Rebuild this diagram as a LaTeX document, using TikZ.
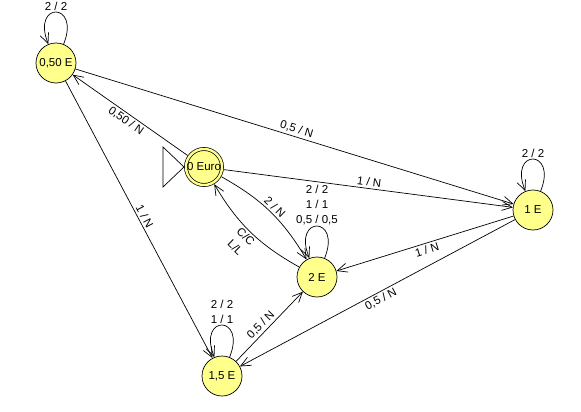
\documentclass[tikz,border=0pt]{standalone}
\usepackage{fontspec}
\setmainfont{Liberation Sans}
\usetikzlibrary{arrows.meta}
\definecolor{stfill}{RGB}{255,255,140}

\begin{document}
\begin{tikzpicture}[
          x=1pt, y=1pt,
          font=\fontsize{11.5}{15}\selectfont,
          st/.style={circle, draw, line width=0.7pt, fill=stfill, minimum size=40pt, inner sep=0pt},
          acc/.style={st, minimum size=36pt, inner sep=-3pt, double=stfill, double distance=2.4pt, outer sep=2pt},
          tr/.style={draw, line width=0.7pt, -{Straight Barb[length=10pt,width=9pt]}},
          lbl/.style={sloped, inner sep=2pt},
          selfloop/.style={out=68, in=112, distance=46pt},
          looplbl/.style={above, inner sep=1pt, align=center}
      ]
        \useasboundingbox (0,0) rectangle (581,-412);
        \node[st] (c50) at (56,-63) {0,50 E};
        \node[acc] (c0) at (204,-167) {0 Euro};
        \node[st] (e1) at (533,-210) {1 E};
        \node[st] (e2) at (317,-277) {2 E};
        \node[st] (e15) at (222,-376) {1,5 E};
        \draw[line width=0.7pt] (c0.west) -- ++(-21,20) -- ++(0,-40) -- cycle;
        \draw[tr] (c50) -- node[lbl, above] {0,5 / N} (e1);
        \draw[tr] (c0) -- node[lbl, below] {0,50 / N} (c50);
        \draw[tr] (c0) -- node[lbl, above] {1 / N} (e1);
        \draw[tr] (c0) to[bend left=15] node[lbl, above] {2 / N} (e2);
        \draw[tr] (e2) to[bend left=15] node[lbl, below, align=center] {C/C\\L/L} (c0);
        \draw[tr] (c50) -- node[lbl, above] {1 / N} (e15);
        \draw[tr] (e1) -- node[lbl, below] {1 / N} (e2);
        \draw[tr] (e1) -- node[lbl, below] {0,5 / N} (e15);
        \draw[tr] (e15) -- node[lbl, above, pos=0.45] {0,5 / N} (e2);
        \draw[tr] (c50) to[selfloop] node[looplbl] {2 / 2} (c50);
        \draw[tr] (e1) to[selfloop] node[looplbl] {2 / 2} (e1);
        \draw[tr] (e2) to[selfloop] node[looplbl] {2 / 2\\1 / 1\\0,5 / 0,5} (e2);
        \draw[tr] (e15) to[selfloop] node[looplbl] {2 / 2\\1 / 1} (e15);
      \end{tikzpicture}
\end{document}
